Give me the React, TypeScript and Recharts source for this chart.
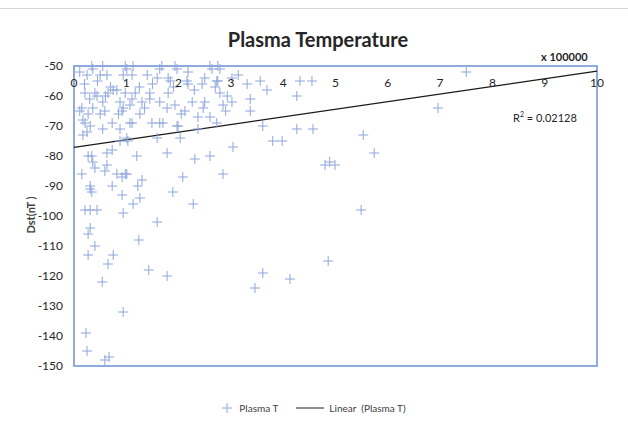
import React from "react";
import { ScatterChart, Scatter, XAxis, YAxis, ReferenceLine, ReferenceArea, Legend } from "recharts";

// Plasma temperature in units of 100000 K
const plasmaT: number[] = [
  0.34, 0.36, 0.55, 0.98, 1.01, 1.13, 1.64, 1.68, 1.93, 1.97, 2.6, 2.64, 2.75, 2.79,
  0.11, 0.25, 0.5, 0.63, 0.94, 1.11, 1.4, 1.59, 1.8, 1.84, 2.18, 2.5, 2.75, 3.02, 3.14, 3.56, 4.32, 4.55, 2.16, 2.73, 7.5,
  3.31, 2.18, 3.69, 0.75, 0.82, 2.7, 1.8, 0.4, 0.65, 1.45, 0.21, 0.98, 1.17, 2.79, 4.26, 2.93, 0.44,
  1.11, 1.45, 3.37, 0.88, 1.64, 0.55, 1.3, 2.26, 2.5, 3.02, 1.93, 1.07, 2.85, 1.78, 2.47, 0.94, 0.15, 0.36, 0.11, 0.92, 0.59, 2.12, 3.37, 6.96,
  0.27, 0.5, 1.26, 2.6, 2.37, 0.17, 1.49, 1.07, 1.64, 2.73, 1.7, 0.73, 1.11, 0.21, 0.31, 1.97, 3.61,
  1.99, 0.55, 2.37, 4.26, 4.57, 0.88, 0.25, 0.17, 5.53, 2.03, 1.01, 1.59, 0.88, 1.03, 3.8, 3.98, 3.04,
  1.78, 5.74, 0.73, 0.63, 0.27, 0.34, 1.2, 2.6, 2.31, 0.36, 4.89, 4.99, 4.8, 0.63, 0.4, 0.59, 0.82, 0.98, 1.01, 2.85, 0.15, 0.92, 2.08, 1.3, 0.31, 0.73, 1.22, 0.31, 1.89, 0.34, 0.92, 1.26,
  2.28, 1.13, 0.21, 0.31, 0.44, 0.94, 5.49, 1.59, 0.31, 0.27, 1.24, 0.4, 0.27, 0.75, 0.65, 1.43, 1.78, 0.54, 3.61, 3.46, 4.13, 4.86, 0.94, 0.23, 0.25, 0.59, 0.67,
  0.2, 0.45, 0.7, 1.25, 1.5, 1.9, 2.3, 2.45, 0.3, 0.6, 0.85, 1.35, 2.05, 2.9,
];

// Dst index in nT
const dst: number[] = [
  -50, -51, -50, -50, -51, -50, -51, -50, -50, -51, -50, -51, -50, -51,
  -52, -53, -53, -53, -53, -53, -53, -54, -54, -55, -52, -54, -55, -54, -53, -55, -55, -55, -55, -55, -52,
  -56, -56, -58, -58, -58, -57, -59, -59, -59, -59, -59, -59, -59, -59, -60, -60, -60,
  -61, -61, -61, -62, -62, -62, -62, -62, -62, -62, -63, -63, -63, -64, -64, -64, -64, -64, -65, -65, -65, -65, -65, -64,
  -66, -66, -66, -67, -67, -68, -69, -69, -69, -69, -69, -69, -69, -69, -70, -70, -70,
  -70, -71, -71, -71, -71, -71, -72, -73, -73, -74, -74, -74, -75, -75, -75, -75, -77,
  -79, -79, -78, -79, -80, -80, -80, -80, -81, -82, -82, -83, -83, -83, -84, -85, -86, -86, -86, -86, -86, -87, -87, -88, -90, -90, -90, -91, -92, -92, -93, -94,
  -96, -96, -98, -98, -98, -99, -98, -102, -104, -106, -108, -110, -113, -113, -116, -118, -120, -122, -119, -124, -121, -115, -132, -139, -145, -148, -147,
  -56, -55, -57, -57, -56, -57, -58, -56, -61, -60, -66, -64, -66, -65,
];

const xTicks: number[] = [0, 1, 2, 3, 4, 5, 6, 7, 8, 9, 10];
const yTicks: number[] = [-50, -60, -70, -80, -90, -100, -110, -120, -130, -140, -150];

// Linear trendline
const trendIntercept = -77.1;
const trendSlope = 2.54;
const rSquared = "0.02128";

const title = "Plasma Temperature";
const seriesName = "Plasma T";
const trendName = "Linear  (Plasma T)";
const xUnit = "x 100000";
const yLabel = "Dst(nT )";

const data = plasmaT.map((x, i) => ({ x, y: dst[i] }));

const MARK = "#8EA6DC";
const FONT = "Lato, 'Liberation Sans', sans-serif";

const Plus = (props: any) => {
  const { cx, cy } = props;
  if (cx == null || cy == null) return null;
  return (
    <g>
      <line x1={cx - 5} x2={cx + 5} y1={cy} y2={cy} stroke={MARK} strokeWidth={1} />
      <line x1={cx} x2={cx} y1={cy - 5} y2={cy + 5} stroke={MARK} strokeWidth={1} />
    </g>
  );
};

const LegendContent = () => (
  <div style={{ display: "flex", justifyContent: "center", alignItems: "center", fontFamily: FONT, fontSize: 10, color: "#404040" }}>
    <svg width={12} height={12} style={{ marginRight: 6 }}>
      <line x1={1} x2={11} y1={6} y2={6} stroke={MARK} strokeWidth={1} />
      <line x1={6} x2={6} y1={1} y2={11} stroke={MARK} strokeWidth={1} />
    </svg>
    <span>{seriesName}</span>
    <svg width={28} height={12} style={{ marginLeft: 18, marginRight: 5 }}>
      <line x1={0} x2={28} y1={6} y2={6} stroke="#222" strokeWidth={1} />
    </svg>
    <span style={{ whiteSpace: "pre" }}>{trendName}</span>
  </div>
);

export default function App() {
  return (
    <div style={{ position: "absolute", left: 0, top: 0, width: 628, height: 428, background: "#fff", fontFamily: FONT }}>
      <div style={{ position: "absolute", left: 0, top: 8, width: 628, height: 1, background: "#d9d9d9" }} />
      <ScatterChart width={628} height={428} margin={{ top: 66, right: 31, bottom: 50, left: 30 }}>
        <XAxis
          type="number"
          dataKey="x"
          domain={[0, 10]}
          ticks={xTicks}
          orientation="top"
          mirror
          axisLine={false}
          tickLine={false}
          tickSize={0}
          tickMargin={12}
          interval={0}
          tick={{ fill: "#262626", fontSize: 12, fontFamily: FONT }}
        />
        <YAxis
          type="number"
          dataKey="y"
          domain={[-150, -50]}
          ticks={yTicks}
          width={44}
          axisLine={false}
          tickLine={false}
          tickSize={0}
          tickMargin={11}
          interval={0}
          tick={{ fill: "#262626", fontSize: 12, fontFamily: FONT }}
        />
        <ReferenceArea x1={0} x2={10} y1={-150} y2={-50} fill="none" stroke="#8FAADC" strokeWidth={2} ifOverflow="visible" />
        <Scatter name={seriesName} data={data} shape={Plus} isAnimationActive={false} />
        <ReferenceLine
          segment={[
            { x: 0, y: trendIntercept },
            { x: 10, y: trendIntercept + trendSlope * 10 },
          ]}
          stroke="#1a1a1a"
          strokeWidth={1.2}
          ifOverflow="visible"
        />
        <Legend verticalAlign="bottom" content={LegendContent} wrapperStyle={{ bottom: 14 }} />
      </ScatterChart>
      <div style={{ position: "absolute", left: 0, width: 636, top: 27, textAlign: "center", fontSize: 20, fontWeight: 700, color: "#262626" }}>
        {title}
      </div>
      <div style={{ position: "absolute", left: 541, top: 50, fontSize: 11, fontWeight: 700, color: "#262626" }}>{xUnit}</div>
      <div style={{ position: "absolute", left: 513, top: 110, fontSize: 11, color: "#262626" }}>
        R<sup style={{ fontSize: 7 }}>2</sup> = {rSquared}
      </div>
      <div
        style={{
          position: "absolute",
          left: 30,
          top: 215,
          transform: "translate(-50%, -50%) rotate(-90deg)",
          fontSize: 11,
          fontWeight: 700,
          color: "#404040",
          whiteSpace: "pre",
        }}
      >
        {yLabel}
      </div>
    </div>
  );
}
